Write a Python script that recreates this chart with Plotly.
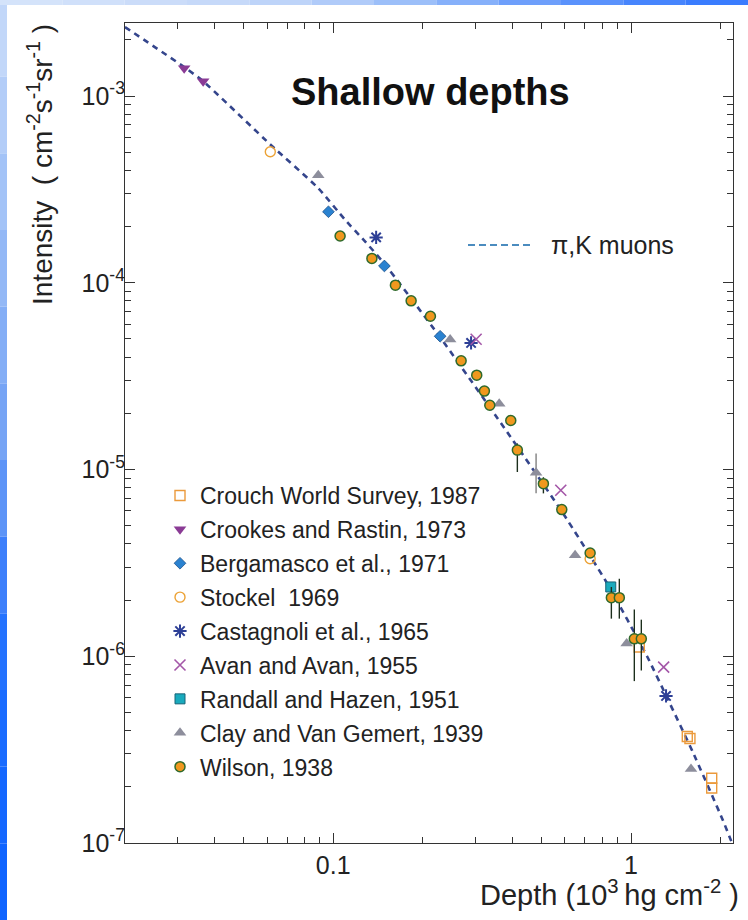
import math
import plotly.graph_objects as go

# ---- data: depth in 10^3 hg cm^-2, vertical intensity in cm^-2 s^-1 sr^-1 ----
model_depth = [0.0200, 0.0316, 0.0366, 0.0615, 0.0891, 0.1097, 0.1281, 0.1483,
               0.2286, 0.4018, 0.591, 0.831, 1.132, 1.321, 1.615, 2.036, 2.199]
model_intensity = [2.34e-3, 1.43e-3, 1.20e-3, 5.5e-4, 3.21e-4, 2.17e-4, 1.66e-4, 1.27e-4,
                   5.11e-5, 1.43e-5, 5.83e-6, 2.46e-6, 1.0e-6, 6.01e-7, 3.05e-7, 1.32e-7, 9.7e-8]

crouch_depth = [1.066, 1.545, 1.577, 1.866, 1.866]
crouch_int = [1.12e-6, 3.72e-7, 3.63e-7, 2.22e-7, 1.97e-7]

crookes_depth = [0.0316, 0.0366]
crookes_int = [1.41e-3, 1.20e-3]

bergamasco_depth = [0.0964, 0.1486, 0.2286]
bergamasco_int = [2.40e-4, 1.23e-4, 5.17e-5]

stockel_depth = [0.0615, 0.729]
stockel_int = [5.03e-4, 3.33e-6]

castagnoli_depth = [0.1394, 0.2904, 1.311]
castagnoli_int = [1.75e-4, 4.76e-5, 6.13e-7]

avan_depth = [0.302, 0.581, 1.287]
avan_int = [4.98e-5, 7.74e-6, 8.74e-7]

randall_depth = [0.855]
randall_int = [2.35e-6]

clay_depth = [0.0891, 0.247, 0.361, 0.480, 0.649, 0.967, 1.590]
clay_int = [3.77e-4, 4.97e-5, 2.25e-5, 9.62e-6, 3.47e-6, 1.17e-6, 2.49e-7]
clay_hi = [None, None, None, 1.22e-5, None, None, None]
clay_lo = [None, None, None, 7.46e-6, None, None, None]

wilson_depth = [0.1055, 0.1349, 0.1618, 0.1827, 0.2121, 0.2689, 0.3034, 0.3219, 0.3356,
                0.3947, 0.4153, 0.508, 0.5855, 0.729, 0.859, 0.9136, 1.026, 1.083]
wilson_int = [1.78e-4, 1.35e-4, 9.71e-5, 8.0e-5, 6.62e-5, 3.82e-5, 3.20e-5, 2.63e-5, 2.21e-5,
              1.83e-5, 1.27e-5, 8.40e-6, 6.10e-6, 3.57e-6, 2.06e-6, 2.06e-6, 1.24e-6, 1.24e-6]
wilson_hi = [None] * 10 + [1.38e-5, 9.09e-6, None, None, 2.35e-6, 2.60e-6, 1.78e-6, 1.57e-6]
wilson_lo = [None] * 10 + [9.7e-6, 7.45e-6, None, None, 1.59e-6, 1.59e-6, 7.36e-7, 8.39e-7]

x_tick_vals = [0.1, 1]
x_tick_text = ["0.1", "1"]
y_tick_vals = [1e-7, 1e-6, 1e-5, 1e-4, 1e-3]
y_tick_text = ["10<sup>-7</sup>", "10<sup>-6</sup>", "10<sup>-5</sup>", "10<sup>-4</sup>", "10<sup>-3</sup>"]

FONT = "Liberation Sans, Arial, sans-serif"

# ---- page geometry ----
WIDTH, HEIGHT = 748, 920
ML, MR, MT, MB = 125, 15, 23, 77
PW, PH = WIDTH - ML - MR, HEIGHT - MT - MB


def fx(px):
    return (px - ML) / PW


def fy(py):
    return (HEIGHT - MB - py) / PH


def err_up(vals, hi):
    return [(h - v) if h is not None else 0 for v, h in zip(vals, hi)]


def err_down(vals, lo):
    return [(v - l) if l is not None else 0 for v, l in zip(vals, lo)]


fig = go.Figure()

# pi, K muon expectation
fig.add_trace(go.Scatter(
    x=model_depth, y=model_intensity, mode="lines", showlegend=False,
    line=dict(color="#34458c", width=2.6, dash="6px,5px", shape="spline", smoothing=0.5),
    hoverinfo="skip",
))

series = [
    ("Crouch World Survey, 1987", crouch_depth, crouch_int,
     dict(symbol="square-open", size=10, color="#eb9a3c", line=dict(width=1.4, color="#eb9a3c")), None),
    ("Crookes and Rastin, 1973", crookes_depth, crookes_int,
     dict(symbol="triangle-down", size=11, color="#8a3b95", line=dict(width=0)), None),
    ("Bergamasco et al., 1971", bergamasco_depth, bergamasco_int,
     dict(symbol="diamond", size=9, color="#2a82d0", line=dict(width=0.8, color="#1a4f8a")), None),
    ("Stockel  1969", stockel_depth, stockel_int,
     dict(symbol="circle-open", size=10, color="#eca236", line=dict(width=1.4, color="#eca236")), None),
    ("Castagnoli et al., 1965", castagnoli_depth, castagnoli_int,
     dict(symbol="asterisk-open", size=11, color="#2d3f96", line=dict(width=2, color="#2d3f96")), None),
    ("Avan and Avan, 1955", avan_depth, avan_int,
     dict(symbol="x-thin-open", size=11, color="#a457a8", line=dict(width=1.6, color="#a457a8")), None),
    ("Randall and Hazen, 1951", randall_depth, randall_int,
     dict(symbol="square", size=10, color="#19aabd", line=dict(width=1, color="#176478")), None),
    ("Clay and Van Gemert, 1939", clay_depth, clay_int,
     dict(symbol="triangle-up", size=11, color="#8d8e9c", line=dict(width=0)),
     (clay_hi, clay_lo, "#808080")),
    ("Wilson, 1938", wilson_depth, wilson_int,
     dict(symbol="circle", size=10, color="#f0981e", line=dict(width=1.5, color="#2f6a2c")),
     (wilson_hi, wilson_lo, "#1c2e1c")),
]

for i, (name, xs, ys, marker, errs) in enumerate(series):
    kw = {}
    if errs is not None:
        hi, lo, ecol = errs
        kw["error_y"] = dict(type="data", symmetric=False, array=err_up(ys, hi),
                             arrayminus=err_down(ys, lo), color=ecol, thickness=1.4, width=0)
    fig.add_trace(go.Scatter(x=xs, y=ys, mode="markers", name=name, marker=marker,
                             legendgroup=f"g{i}", **kw))

# decorative slide strips along the left and top edges
shapes = []
left_cols = ["#c2d7f9", "#b3cdf8", "#a3c3f7", "#93b8f6", "#84aef6", "#76a4f5", "#5d94f7",
             "#3d7ffb", "#2472fe", "#1a6bff", "#1467ff", "#0f64ff"]
n = len(left_cols)
for k, c in enumerate(left_cols):
    y0 = k * HEIGHT / n
    y1 = (k + 1) * HEIGHT / n
    shapes.append(dict(type="rect", xref="paper", yref="paper", x0=fx(0), x1=fx(7),
                       y0=fy(y1), y1=fy(y0), fillcolor=c, line=dict(width=0), layer="below"))
top_cols = ["#d4e3fa", "#d0e0fa", "#cbdcf9", "#c6d9f9", "#bed4f9", "#b0cbf9", "#9cbff9",
            "#86b0fa", "#6e9ffb", "#5a92fc", "#4785fd", "#3a7cfe"]
m = len(top_cols)
for k, c in enumerate(top_cols):
    x0 = k * WIDTH / m
    x1 = (k + 1) * WIDTH / m
    shapes.append(dict(type="rect", xref="paper", yref="paper", x0=fx(x0), x1=fx(x1),
                       y0=fy(5), y1=fy(0), fillcolor=c, line=dict(width=0), layer="below"))

# legend sample for the model curve
shapes.append(dict(type="line", xref="paper", yref="paper", x0=fx(468), x1=fx(531),
                   y0=fy(245), y1=fy(245), line=dict(color="#4b8cbf", width=2, dash="7px,4px")))

annotations = [
    dict(text="<b>Shallow depths</b>", x=fx(430), y=fy(92), xref="paper", yref="paper",
         xanchor="center", yanchor="middle", showarrow=False,
         font=dict(size=38, color="#111", family=FONT)),
    dict(text="\u03c0,K muons", x=fx(549), y=fy(245), xref="paper", yref="paper",
         xanchor="left", yanchor="middle", showarrow=False,
         font=dict(size=25, color="#222", family=FONT)),
    dict(text="Intensity  ( cm<sup>-2</sup>s<sup>-1</sup>sr<sup>-1</sup> )", textangle=-90,
         x=fx(40), y=fy(165), xref="paper", yref="paper", xanchor="center", yanchor="middle",
         showarrow=False, font=dict(size=28, color="#222", family=FONT)),
    dict(text="Depth (10<sup>3 </sup>hg cm<sup>-2</sup> )", x=fx(741), y=fy(893),
         xref="paper", yref="paper", xanchor="right", yanchor="middle", showarrow=False,
         font=dict(size=29, color="#222", family=FONT)),
]

x_minor = [k * 0.01 for k in range(2, 10)] + [k * 0.1 for k in range(2, 10)] + [2.0]
y_minor = [k * 10.0 ** e for e in range(-7, -2) for k in range(2, 10)]

axis_common = dict(type="log", showgrid=False, zeroline=False, showline=True, linecolor="#333",
                   linewidth=1.2, mirror="ticks", ticks="inside", ticklen=10, tickwidth=1,
                   tickcolor="#333", tickfont=dict(size=25, color="#222", family=FONT))

fig.update_layout(
    width=WIDTH, height=HEIGHT,
    margin=dict(l=ML, r=MR, t=MT, b=MB),
    paper_bgcolor="white", plot_bgcolor="white",
    font=dict(family=FONT, color="#222"),
    xaxis=dict(axis_common, range=[math.log10(0.02), math.log10(2.2)],
               tickmode="array", tickvals=x_tick_vals, ticktext=x_tick_text,
               minor=dict(tickmode="array", tickvals=x_minor, ticks="inside", ticklen=6,
                          tickcolor="#333", showgrid=False)),
    yaxis=dict(axis_common, range=[-7, -2.609],
               tickmode="array", tickvals=y_tick_vals, ticktext=y_tick_text,
               ticklabelstandoff=-6,
               minor=dict(tickmode="array", tickvals=y_minor, ticks="inside", ticklen=6,
                          tickcolor="#333", showgrid=False)),
    legend=dict(x=fx(160), y=fy(474), xanchor="left", yanchor="top",
                font=dict(size=23, color="#222", family=FONT),
                bgcolor="rgba(0,0,0,0)", tracegroupgap=1, traceorder="grouped"),
    shapes=shapes,
    annotations=annotations,
)

fig.write_html("out.html")
